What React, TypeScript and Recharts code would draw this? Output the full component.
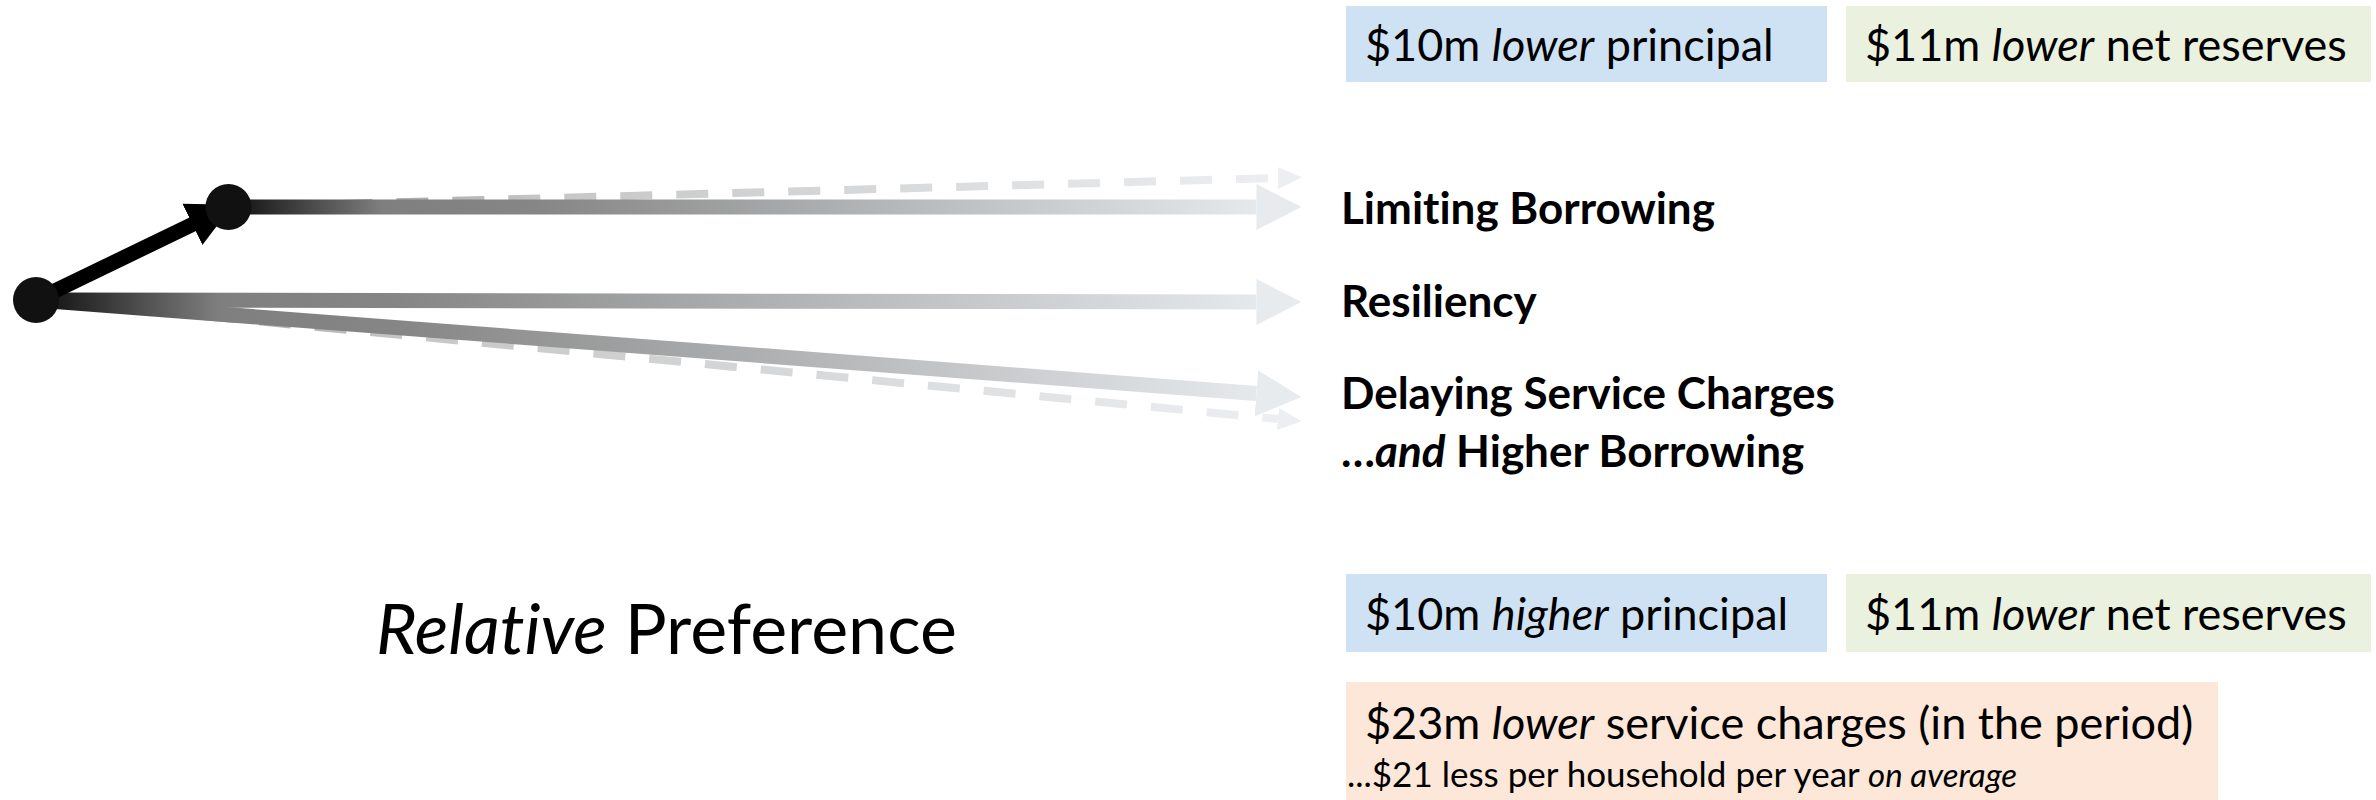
import { ComposedChart, Line, Scatter, XAxis, YAxis } from "recharts"

// arrow shafts, in (step, relative preference) units; heads are drawn by markers
const pivotArrow = [
  { x: 0, y: 0 },
  { x: 1.52, y: 0.93 },
]
const limitingBorrowing = [
  { x: 1.52, y: 0.93 },
  { x: 9.64, y: 0.93 },
]
const limitingBorrowingUpper = [
  { x: 1.52, y: 0.93 },
  { x: 9.81, y: 1.22 },
]
const resiliency = [
  { x: 0, y: 0 },
  { x: 9.64, y: -0.02 },
]
const delayingCharges = [
  { x: 0, y: 0 },
  { x: 9.64, y: -0.935 },
]
const delayingChargesLower = [
  { x: 0, y: 0 },
  { x: 9.81, y: -1.19 },
]
const nodes = [
  { x: 0, y: 0 },
  { x: 1.52, y: 0.93 },
]

const optionLabels = ["Limiting Borrowing", "Resiliency", "Delaying Service Charges"]
const optionSubLabel = { lead: "…", em: "and", rest: " Higher Borrowing" }

const upperBoxes = [
  { amount: "$10m", qualifier: "lower", rest: "principal" },
  { amount: "$11m", qualifier: "lower", rest: "net reserves" },
]
const lowerBoxes = [
  { amount: "$10m", qualifier: "higher", rest: "principal" },
  { amount: "$11m", qualifier: "lower", rest: "net reserves" },
]
const serviceCharges = { amount: "$23m", qualifier: "lower", rest: "service charges (in the period)" }
const serviceChargesNote = { text: "...$21 less per household per year", em: "on average" }
const axisTitle = { em: "Relative", rest: "Preference" }

const W = 2376
const H = 800
const margin = { top: 0, right: 1074, bottom: 0, left: 36 }
const xDomain = [0, 10]
const yDomain = [-5, 3]

const FONT = "Lato, 'Noto Sans', sans-serif"
const BLUE = "#cfe2f3"
const GREEN = "#ebf1df"
const ORANGE = "#fde7d9"

// same mapping as the x axis, only used to place the stroke gradients
const toPx = (x: number) =>
  margin.left + ((x - xDomain[0]) / (xDomain[1] - xDomain[0])) * (W - margin.left - margin.right)

function Grad({ id, data, dashed }: { id: string; data: { x: number }[]; dashed?: boolean }) {
  const x1 = toPx(data[0].x)
  const x2 = toPx(data[data.length - 1].x)
  return (
    <linearGradient id={id} gradientUnits="userSpaceOnUse" x1={x1} y1={0} x2={x2} y2={0}>
      {dashed ? (
        <>
          <stop offset="0" stopColor="#8a8a8a" />
          <stop offset="0.3" stopColor="#c6c6c6" />
          <stop offset="1" stopColor="#eceef1" />
        </>
      ) : (
        <>
          <stop offset="0" stopColor="#0d0d0d" />
          <stop offset="0.15" stopColor="#7f7f7f" />
          <stop offset="0.3" stopColor="#868686" />
          <stop offset="1" stopColor="#e6e9ec" />
        </>
      )}
    </linearGradient>
  )
}

function Box({
  left,
  top,
  width,
  height,
  bg,
  item,
}: {
  left: number
  top: number
  width: number
  height: number
  bg: string
  item: { amount: string; qualifier: string; rest: string }
}) {
  return (
    <div
      style={{
        position: "absolute",
        left,
        top,
        width,
        height,
        background: bg,
        boxSizing: "border-box",
        paddingLeft: 19,
        lineHeight: `${height}px`,
        fontSize: 45,
        whiteSpace: "nowrap",
      }}
    >
      {item.amount} <i>{item.qualifier}</i> {item.rest}
    </div>
  )
}

const labelStyle = (center: number): React.CSSProperties => ({
  position: "absolute",
  left: 1341,
  top: center - 28,
  height: 56,
  lineHeight: "56px",
  fontSize: 44,
  fontWeight: 700,
  whiteSpace: "nowrap",
})

export default function App() {
  const lineCommon = {
    type: "linear" as const,
    dataKey: "y",
    dot: false,
    activeDot: false,
    isAnimationActive: false,
  }
  return (
    <div
      style={{
        position: "absolute",
        left: 0,
        top: 0,
        width: W,
        height: H,
        fontFamily: FONT,
        fontVariantLigatures: "none",
        color: "#000",
        background: "#fff",
      }}
    >
      <ComposedChart width={W} height={H} margin={margin}>
        <defs>
          <Grad id="gLimit" data={limitingBorrowing} />
          <Grad id="gLimitUp" data={limitingBorrowingUpper} dashed />
          <Grad id="gRes" data={resiliency} />
          <Grad id="gDelay" data={delayingCharges} />
          <Grad id="gDelayLow" data={delayingChargesLower} dashed />
          <marker id="headBig" markerUnits="userSpaceOnUse" viewBox="0 0 46 48" markerWidth={46} markerHeight={48} refX={0} refY={24} orient="auto">
            <path d="M0,1 L45,24 L0,47 Z" fill="#e8ebee" />
          </marker>
          <marker id="headSmall" markerUnits="userSpaceOnUse" viewBox="0 0 26 24" markerWidth={26} markerHeight={24} refX={0} refY={12} orient="auto">
            <path d="M0,1 L24,12 L0,23 Z" fill="#eceef1" />
          </marker>
          <marker id="headBlack" markerUnits="userSpaceOnUse" viewBox="0 0 46 48" markerWidth={46} markerHeight={48} refX={40} refY={24} orient="auto">
            <path d="M0,1 L45,24 L0,47 Z" fill="#000" />
          </marker>
        </defs>
        <XAxis type="number" dataKey="x" domain={xDomain} hide />
        <YAxis type="number" dataKey="y" domain={yDomain} hide />
        <Line {...lineCommon} data={limitingBorrowingUpper} stroke="url(#gLimitUp)" strokeWidth={8} strokeDasharray="32 24" markerEnd="url(#headSmall)" />
        <Line {...lineCommon} data={delayingChargesLower} stroke="url(#gDelayLow)" strokeWidth={8} strokeDasharray="32 24" markerEnd="url(#headSmall)" />
        <Line {...lineCommon} data={delayingCharges} stroke="url(#gDelay)" strokeWidth={15} markerEnd="url(#headBig)" />
        <Line {...lineCommon} data={resiliency} stroke="url(#gRes)" strokeWidth={15} markerEnd="url(#headBig)" />
        <Line {...lineCommon} data={limitingBorrowing} stroke="url(#gLimit)" strokeWidth={15} markerEnd="url(#headBig)" />
        <Line {...lineCommon} data={pivotArrow} stroke="#000" strokeWidth={15} markerEnd="url(#headBlack)" />
        <Scatter
          data={nodes}
          dataKey="y"
          isAnimationActive={false}
          shape={(p: any) => <circle cx={p.cx} cy={p.cy} r={23} fill="#111" />}
        />
      </ComposedChart>

      <Box left={1346} top={6} width={481} height={76} bg={BLUE} item={upperBoxes[0]} />
      <Box left={1846} top={6} width={525} height={76} bg={GREEN} item={upperBoxes[1]} />

      <div style={labelStyle(207)}>{optionLabels[0]}</div>
      <div style={labelStyle(300)}>{optionLabels[1]}</div>
      <div style={labelStyle(392)}>{optionLabels[2]}</div>
      <div style={labelStyle(450)}>
        {optionSubLabel.lead}
        <i>{optionSubLabel.em}</i>
        {optionSubLabel.rest}
      </div>

      <Box left={1346} top={574} width={481} height={78} bg={BLUE} item={lowerBoxes[0]} />
      <Box left={1846} top={574} width={525} height={78} bg={GREEN} item={lowerBoxes[1]} />

      <div style={{ position: "absolute", left: 1346, top: 682, width: 872, height: 118, background: ORANGE }}>
        <div style={{ position: "absolute", left: 19, top: 12, lineHeight: "56px", fontSize: 45, whiteSpace: "nowrap" }}>
          {serviceCharges.amount} <i>{serviceCharges.qualifier}</i> {serviceCharges.rest}
        </div>
        <div style={{ position: "absolute", left: 1, top: 71, lineHeight: "40px", fontSize: 35, whiteSpace: "nowrap" }}>
          {serviceChargesNote.text} <i style={{ fontSize: 33 }}>{serviceChargesNote.em}</i>
        </div>
      </div>

      <div style={{ position: "absolute", left: 376, top: 582, lineHeight: "90px", fontSize: 70, whiteSpace: "nowrap" }}>
        <i>{axisTitle.em}</i> {axisTitle.rest}
      </div>
    </div>
  )
}
